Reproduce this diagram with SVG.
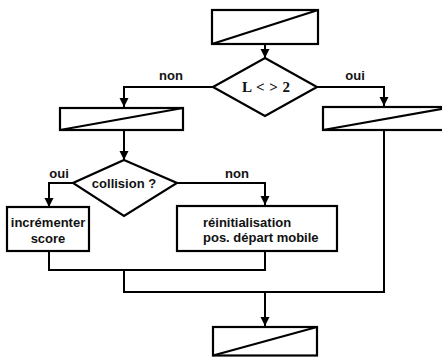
<svg xmlns="http://www.w3.org/2000/svg" width="442" height="357" viewBox="0 0 442 357">
<defs>
<marker id="ah" markerWidth="10" markerHeight="10" refX="9" refY="4.5" orient="auto" markerUnits="userSpaceOnUse">
<path d="M0,0 L9,4.5 L0,9 Z" fill="#000"/>
</marker>
<style>
.box{fill:#fff;stroke:#000;stroke-width:2.2}
.diag{fill:none;stroke:#000;stroke-width:2.2}
.edge{fill:none;stroke:#000;stroke-width:2}
text{font-family:"Liberation Sans",Arial,sans-serif;font-weight:bold;font-size:13px;fill:#111}
.lbl{text-anchor:middle}
</style>
</defs>
<rect width="442" height="357" fill="#fff"/>
<g id="connectors">
<path class="edge" d="M265,45 V58" marker-end="url(#ah)"/>
<path class="edge" d="M213,87 H124 V107" marker-end="url(#ah)"/>
<path class="edge" d="M317,87 H384 V106" marker-end="url(#ah)"/>
<path class="edge" d="M124,131 V160" marker-end="url(#ah)"/>
<path class="edge" d="M73,183 H49 V207" marker-end="url(#ah)"/>
<path class="edge" d="M177,183 H265 V205" marker-end="url(#ah)"/>
<path class="edge" d="M49,251 V270 H265 V251"/>
<path class="edge" d="M124,270 V292 H384 V131"/>
<path class="edge" d="M265,292 V326" marker-end="url(#ah)"/>
<text class="lbl" x="171" y="80">non</text>
<text class="lbl" x="355" y="80">oui</text>
<text class="lbl" x="59" y="178">oui</text>
<text class="lbl" x="237" y="178">non</text>
</g>
<g id="start">
<rect class="box" x="212" y="10" width="106" height="34"/>
<path class="diag" d="M212,44 L318,10"/>
</g>
<g id="cond1">
<path class="box" d="M265,58 L317,87 L265,116 L213,87 Z"/>
<text class="lbl" x="266" y="92" style="font-family:'Liberation Serif','Times New Roman',serif;font-size:15px;word-spacing:1px">L &lt; &gt; 2</text>
</g>
<g id="io-left">
<rect class="box" x="60" y="108" width="123" height="22"/>
<path class="diag" d="M60,130 L183,108"/>
</g>
<g id="io-right">
<rect class="box" x="323" y="107" width="130" height="23"/>
<path class="diag" d="M323,130 L453,107"/>
</g>
<g id="cond2">
<path class="box" d="M124,160 L177,183 L124,216 L73,183 Z"/>
<text class="lbl" x="124" y="188">collision ?</text>
</g>
<g id="increment">
<rect class="box" x="7" y="207" width="82" height="44"/>
<text class="lbl" x="48" y="227">incrémenter</text>
<text class="lbl" x="48" y="243">score</text>
</g>
<g id="reinit">
<rect class="box" x="177" y="206" width="160" height="45"/>
<text x="203" y="227">réinitialisation</text>
<text x="203" y="242">pos. départ mobile</text>
</g>
<g id="end">
<rect class="box" x="213" y="327" width="104" height="28.5"/>
<path class="diag" d="M213,355.5 L317,327"/>
</g>
</svg>
